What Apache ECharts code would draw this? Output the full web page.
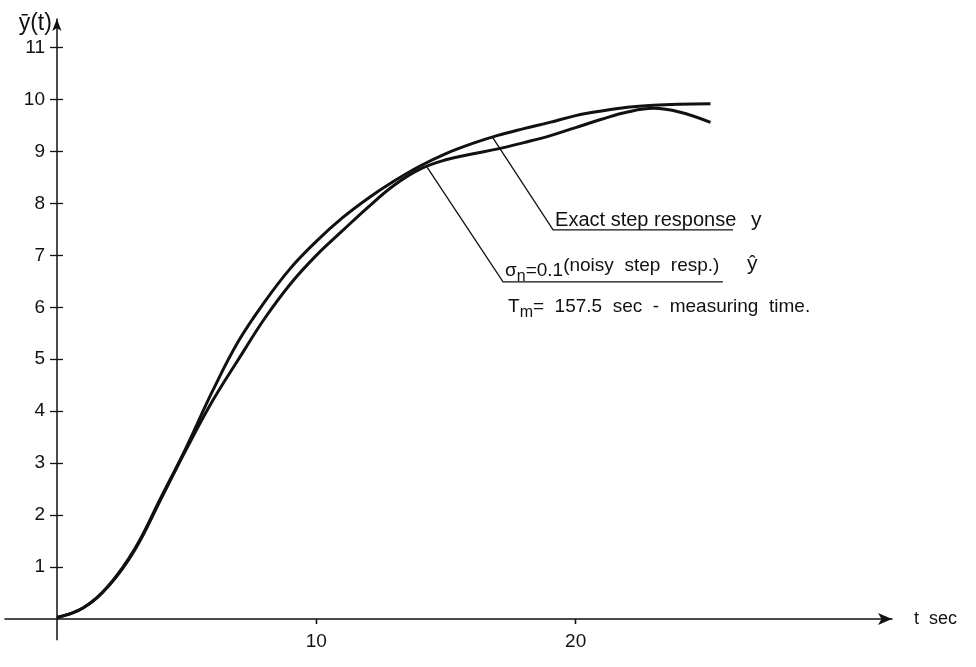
<!DOCTYPE html>
<html>
<head>
<meta charset="utf-8">
<script src="https://cdn.jsdelivr.net/npm/echarts@6/dist/echarts.min.js"></script>
<style>
  html, body { margin: 0; padding: 0; background: #fff; }
  #chart { width: 976px; height: 667px; }
</style>
</head>
<body>
<div id="chart"></div>
<script>
// Time axis (seconds)
const tValues = [0, 1, 2, 3, 4, 5, 6, 7, 8, 9, 10, 11, 12, 13, 14, 15, 16, 17, 18, 19, 20, 21, 22, 23, 24, 25.2];
// Exact step response y
const exactResponse = [0.03, 0.21, 0.65, 1.35, 2.33, 3.32, 4.39, 5.35, 6.1, 6.75, 7.27, 7.72, 8.1, 8.43, 8.72,
  8.96, 9.15, 9.31, 9.44, 9.56, 9.69, 9.78, 9.85, 9.89, 9.91, 9.92];
// Noisy step response estimate (sigma_n = 0.1)
const noisyResponse = [0.03, 0.21, 0.64, 1.33, 2.3, 3.28, 4.2, 5.0, 5.78, 6.45, 7.0, 7.47, 7.93, 8.35, 8.66,
  8.84, 8.95, 9.05, 9.17, 9.3, 9.46, 9.62, 9.76, 9.83, 9.76, 9.56];
// Tick labels
const xTicks = [10, 20];
const yTicks = [1, 2, 3, 4, 5, 6, 7, 8, 9, 10, 11];

const FONT = '"Liberation Sans", Arial, sans-serif';
const INK = '#111';
const X_MAX = 32.2, Y_MAX = 11.55;

const pairs = (ys) => tValues.map((t, i) => [t, ys[i]]);

const chart = echarts.init(document.getElementById('chart'), null, { renderer: 'canvas' });

const noLine = { show: false };
const hidden = { show: false };

const option = {
  backgroundColor: '#fff',
  animation: false,
  grid: [
    // plotting area (origin at t = 0, y = 0)
    { left: 57, right: 84, top: 19, bottom: 48, outerBoundsMode: 'none' },
    // same scale, extended so the axis lines cross past the origin
    { left: 5, right: 84, top: 19, bottom: 27.2, outerBoundsMode: 'none' }
  ],
  xAxis: [{
    gridIndex: 0, type: 'value', min: 0, max: X_MAX,
    axisLine: noLine,
    axisTick: { show: true, inside: false, length: 5, customValues: xTicks, lineStyle: { color: INK, width: 1.3 } },
    axisLabel: { customValues: xTicks, margin: 13, fontFamily: FONT, fontSize: 19, color: INK },
    splitLine: hidden
  }, {
    gridIndex: 0, type: 'value', min: 0, max: X_MAX,
    axisLine: noLine,
    axisTick: { show: true, inside: true, length: 5, customValues: xTicks, lineStyle: { color: INK, width: 1.3 } },
    axisLabel: hidden, splitLine: hidden
  }, {
    gridIndex: 1, type: 'value', min: -2, max: X_MAX,
    name: 't  sec', nameLocation: 'end', nameGap: 22,
    nameTextStyle: { fontFamily: FONT, fontSize: 18, color: INK, verticalAlign: 'middle' },
    axisLine: { onZero: true, lineStyle: { color: INK, width: 1.5 },
      symbol: ['none', 'arrow'], symbolSize: [9, 14] },
    axisTick: hidden, axisLabel: hidden, splitLine: hidden
  }],
  yAxis: [{
    gridIndex: 0, type: 'value', min: 0, max: Y_MAX,
    axisLine: noLine,
    axisTick: { show: true, inside: false, length: 7, customValues: yTicks, lineStyle: { color: INK, width: 1.3 } },
    axisLabel: { customValues: yTicks, margin: 12, fontFamily: FONT, fontSize: 19, color: INK },
    splitLine: hidden
  }, {
    gridIndex: 0, type: 'value', min: 0, max: Y_MAX, position: 'left',
    axisLine: noLine,
    axisTick: { show: true, inside: true, length: 6, customValues: yTicks, lineStyle: { color: INK, width: 1.3 } },
    axisLabel: hidden, splitLine: hidden
  }, {
    gridIndex: 1, type: 'value', min: -0.4, max: Y_MAX,
    name: 'ȳ(t)', nameLocation: 'end', nameGap: -5,
    nameTextStyle: { fontFamily: FONT, fontSize: 23, color: INK, align: 'right', verticalAlign: 'middle', padding: [0, 5, 0, 0] },
    axisLine: { onZero: true, lineStyle: { color: INK, width: 1.5 },
      symbol: ['none', 'arrow'], symbolSize: [7, 12] },
    axisTick: hidden, axisLabel: hidden, splitLine: hidden
  }],
  series: [{
    name: 'Exact step response',
    type: 'line', xAxisIndex: 0, yAxisIndex: 0,
    data: pairs(exactResponse), smooth: 0.4, showSymbol: false,
    lineStyle: { color: INK, width: 3 }
  }, {
    name: 'Noisy step response',
    type: 'line', xAxisIndex: 0, yAxisIndex: 0,
    data: pairs(noisyResponse), smooth: 0.4, showSymbol: false,
    lineStyle: { color: INK, width: 3 }
  }]
};

chart.setOption(option);

// Annotation leaders in data coordinates (t, y): from curve to text, then underline
const exactLeader = [[16.81, 9.26], [19.13, 7.49], [26.07, 7.49]];
const noisyLeader = [[14.27, 8.70], [17.2, 6.49], [25.68, 6.49]];

const px = (p) => chart.convertToPixel({ xAxisIndex: 0, yAxisIndex: 0 }, p);
const eL = exactLeader.map(px);
const nL = noisyLeader.map(px);

const plain = (text, x, y, size) => ({
  type: 'text',
  style: { text: text, x: x, y: y, fill: INK, font: size + 'px ' + FONT, verticalAlign: 'middle' }
});

chart.setOption({
  graphic: [
    { type: 'polyline', shape: { points: eL }, style: { stroke: INK, lineWidth: 1.3, fill: null } },
    { type: 'polyline', shape: { points: nL }, style: { stroke: INK, lineWidth: 1.3, fill: null } },
    plain('Exact step response', eL[1][0] + 2, eL[1][1] - 9, 20),
    plain('y', eL[2][0] + 18, eL[1][1] - 10, 21),
    { type: 'text', style: {
        text: '{a|σ}{s|n}{a|=0.1}{p|(noisy  step  resp.)}',
        x: nL[1][0] + 2, y: nL[1][1] - 13, fill: INK, verticalAlign: 'middle',
        rich: {
          a: { fontFamily: FONT, fontSize: 19, color: INK, padding: [4, 0, 0, 0] },
          s: { fontFamily: FONT, fontSize: 16, color: INK, padding: [16, 0, 0, 0] },
          p: { fontFamily: FONT, fontSize: 19, color: INK, padding: [0, 0, 6, 0] }
        }
      } },
    plain('ŷ', nL[2][0] + 24, nL[1][1] - 18, 21),
    { type: 'text', style: {
        text: '{a|T}{s|m}{a|=  157.5  sec  -  measuring  time.}',
        x: nL[1][0] + 5, y: nL[1][1] + 25, fill: INK, verticalAlign: 'middle',
        rich: {
          a: { fontFamily: FONT, fontSize: 19, color: INK },
          s: { fontFamily: FONT, fontSize: 16, color: INK, padding: [12, 0, 0, 0] }
        }
      } }
  ]
});
</script>
</body>
</html>
